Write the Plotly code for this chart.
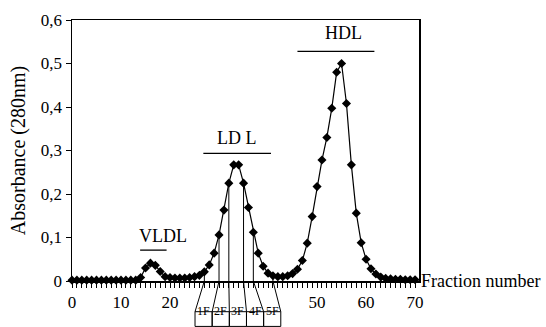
import plotly.graph_objects as go

# ---- data ----
fractions = list(range(0, 71))
absorbance = [
    0.002, 0.002, 0.002, 0.002, 0.002, 0.002, 0.002, 0.002, 0.002, 0.002,   # 0-9
    0.002, 0.002, 0.002, 0.002, 0.008, 0.030, 0.041, 0.036, 0.022, 0.010,   # 10-19
    0.008, 0.007, 0.007, 0.007, 0.008, 0.010, 0.013, 0.021, 0.037, 0.064,   # 20-29
    0.106, 0.163, 0.225, 0.267, 0.267, 0.225, 0.169, 0.112, 0.064, 0.034,   # 30-39
    0.018, 0.012, 0.010, 0.010, 0.012, 0.017, 0.027, 0.047, 0.087, 0.148,   # 40-49
    0.217, 0.278, 0.330, 0.397, 0.480, 0.500, 0.408, 0.267, 0.156, 0.088,   # 50-59
    0.050, 0.028, 0.016, 0.009, 0.006, 0.005, 0.004, 0.004, 0.003, 0.003,   # 60-69
    0.003,                                                                  # 70
]
x_ticks = [0, 10, 20, 50, 60, 70]          # 30 and 40 are hidden by the sub-fraction diagram
y_ticks = [0, 0.1, 0.2, 0.3, 0.4, 0.5, 0.6]
y_tick_labels = ["0", "0,1", "0,2", "0,3", "0,4", "0,5", "0,6"]

# lipoprotein groups: label, bar start, bar end, bar level, label x, label y
group_names = ["VLDL", "LD L", "HDL"]
group_start = [13.9, 26.8, 46.0]
group_end = [19.3, 40.6, 61.7]
group_level = [0.071, 0.2935, 0.528]
group_label_x = [18.6, 33.7, 55.4]
group_label_y = [0.103, 0.329, 0.570]

# LDL sub-fractions
subfraction_bounds = [27, 30, 32, 35, 37, 41]
subfraction_names = ["1F", "2F", "3F", "4F", "5F"]
box_left = 25.1
cell_width = 3.5

FONT = "Liberation Serif"

fig = go.Figure()
fig.add_trace(go.Scatter(
    x=fractions, y=absorbance, mode="lines+markers",
    line=dict(color="black", width=1.2),
    marker=dict(symbol="diamond", size=7, color="black"),
    showlegend=False, cliponaxis=False, hoverinfo="skip",
))

shapes = []
annotations = []

# group bars and labels
for name, x0, x1, lv, lx, ly in zip(group_names, group_start, group_end,
                                    group_level, group_label_x, group_label_y):
    shapes.append(dict(type="line", xref="x", yref="y", x0=x0, x1=x1, y0=lv, y1=lv,
                       line=dict(color="black", width=1.3)))
    annotations.append(dict(text=name, xref="x", yref="y", x=lx, y=ly,
                            showarrow=False, font=dict(family=FONT, size=18, color="black")))

# vertical sub-fraction lines up to curve
for b in subfraction_bounds:
    shapes.append(dict(type="line", xref="x", yref="y", x0=b, x1=b, y0=0,
                       y1=absorbance[fractions.index(b)],
                       line=dict(color="black", width=1)))

# boxes below the axis
box_top = -0.1176
box_bottom = -0.174
cell_edges = [box_left + i * cell_width for i in range(len(subfraction_names) + 1)]
for b, e in zip(subfraction_bounds, cell_edges):
    shapes.append(dict(type="line", xref="x", yref="paper", x0=b, x1=e, y0=0, y1=box_top,
                       line=dict(color="black", width=1)))
for i, nm in enumerate(subfraction_names):
    shapes.append(dict(type="rect", xref="x", yref="paper",
                       x0=cell_edges[i], x1=cell_edges[i + 1], y0=box_bottom, y1=box_top,
                       line=dict(color="black", width=1)))
    annotations.append(dict(text=nm, xref="x", yref="paper",
                            x=(cell_edges[i] + cell_edges[i + 1]) / 2,
                            y=(box_top + box_bottom) / 2, showarrow=False, borderpad=0,
                            font=dict(family=FONT, size=12, color="black")))

annotations.append(dict(text="Fraction number", xref="paper", yref="y", x=1, y=0,
                        xanchor="left", yanchor="middle", xshift=1, showarrow=False,
                        borderpad=0,
                        font=dict(family=FONT, size=18, color="black")))

fig.update_layout(
    width=546, height=327,
    margin=dict(l=72, r=127, t=20, b=46),
    paper_bgcolor="white", plot_bgcolor="white",
    font=dict(family=FONT, size=17, color="black"),
    shapes=shapes, annotations=annotations,
    xaxis=dict(range=[0, 70.8], tickvals=x_ticks, ticks="outside", ticklen=5,
               tickwidth=1, tickcolor="black", automargin=False,
               minor=dict(dtick=1, ticks="outside", ticklen=5, tickcolor="black", tickwidth=1),
               showline=True, linecolor="black", linewidth=1.5, mirror=True,
               showgrid=False, zeroline=False,
               tickfont=dict(family=FONT, size=17, color="black")),
    yaxis=dict(range=[0, 0.6], tickvals=y_ticks, ticktext=y_tick_labels,
               ticks="outside", ticklen=5, tickcolor="black", automargin=False,
               showline=True, linecolor="black", linewidth=1.5, mirror=True,
               showgrid=False, zeroline=False,
               title=dict(text="Absorbance (280nm)", standoff=10,
                          font=dict(family=FONT, size=20, color="black")),
               tickfont=dict(family=FONT, size=17, color="black")),
)

fig.write_html("out.html", config={"displayModeBar": False, "staticPlot": True},
               post_script="document.body.style.margin='0';document.body.style.overflow='hidden';")
